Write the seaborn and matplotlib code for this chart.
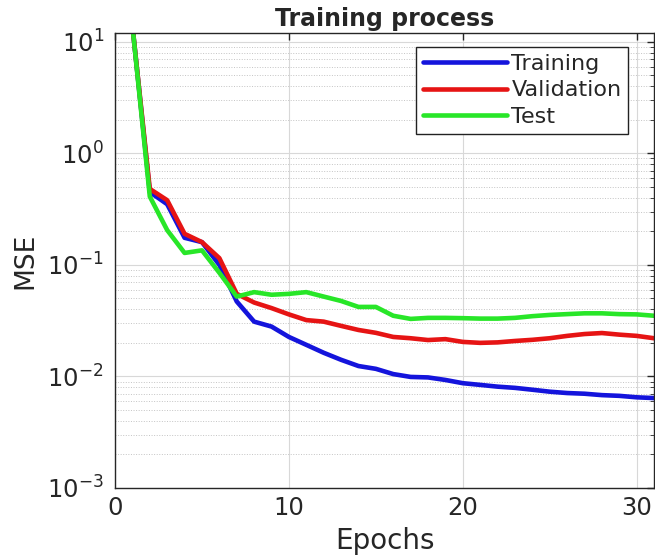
import numpy as np
import pandas as pd
import matplotlib
matplotlib.use('Agg')
import matplotlib.pyplot as plt
import matplotlib.ticker as mticker
import seaborn as sns

epochs = list(range(1, 32))
training = [14, 0.45, 0.35, 0.175, 0.16, 0.10, 0.047, 0.031, 0.028, 0.0226, 0.0192, 0.0163,
            0.0141, 0.0124, 0.0117, 0.0105, 0.0099, 0.0098, 0.0093, 0.0087, 0.0084, 0.0081,
            0.0079, 0.0076, 0.0073, 0.0071, 0.0070, 0.0068, 0.0067, 0.0065, 0.0064]
validation = [14, 0.48, 0.38, 0.19, 0.16, 0.115, 0.055, 0.046, 0.041, 0.036, 0.032, 0.031,
              0.0284, 0.0261, 0.0246, 0.0226, 0.022, 0.0212, 0.0216, 0.0204, 0.0200, 0.0202,
              0.0208, 0.0213, 0.022, 0.0231, 0.0240, 0.0245, 0.0237, 0.0231, 0.022]
test = [14, 0.41, 0.205, 0.128, 0.135, 0.085, 0.052, 0.057, 0.054, 0.055, 0.057, 0.052,
        0.0475, 0.042, 0.042, 0.035, 0.0328, 0.0335, 0.0335, 0.0333, 0.033, 0.033,
        0.0335, 0.0347, 0.0356, 0.0362, 0.0368, 0.0368, 0.0362, 0.036, 0.035]
series_names = ['Training', 'Validation', 'Test']
colors = ['#1414dc', '#e61414', '#28e628']

df = pd.DataFrame({
    'Epochs': epochs * 3,
    'MSE': training + validation + test,
    'set': np.repeat(series_names, len(epochs)),
})

sns.set_style('white')
plt.rcParams['font.family'] = ['DejaVu Sans']
plt.rcParams['mathtext.fontset'] = 'dejavusans'

fig = plt.figure(figsize=(6.55, 5.6), dpi=100)
ax = fig.add_axes([0.1756, 0.1286, 0.823, 0.8125])

sns.lineplot(data=df, x='Epochs', y='MSE', hue='set', hue_order=series_names,
             palette=colors, linewidth=3.3, ax=ax, legend=True)

ax.set_yscale('log')
ax.set_xlim(0, 31)
ax.set_ylim(1e-3, 12)
ax.set_xticks([0, 10, 20, 30])
ax.set_yticks([1e-3, 1e-2, 1e-1, 1e0, 1e1])
ax.yaxis.set_major_formatter(mticker.FuncFormatter(lambda v, p: r'$\mathregular{10^{%d}}$' % round(np.log10(v))))

# matlab style grid
ax.grid(True, which='major', color='#d8d8d8', linewidth=0.8, linestyle='-')
ax.grid(True, which='minor', axis='y', color='#c4c4c4', linewidth=0.7, linestyle=':')
ax.set_axisbelow(True)

ax.tick_params(which='both', direction='in', top=True, right=True, colors='#262626')
ax.tick_params(axis='y', labelsize=17.5, pad=8)
ax.tick_params(axis='x', labelsize=17.5, pad=6)
ax.tick_params(which='major', length=5, width=1)
ax.tick_params(which='minor', length=3, width=0.6)
for sp in ax.spines.values():
    sp.set_color('#262626')
    sp.set_linewidth(1)

ax.set_xlabel('Epochs', fontsize=20, color='#262626', labelpad=5)
ax.set_ylabel('MSE', fontsize=19, color='#262626', labelpad=6)
ax.set_title('Training process', fontsize=17, fontweight='bold', pad=5)

leg = ax.legend(loc='upper right', bbox_to_anchor=(0.952, 0.969), fontsize=16,
                frameon=True, fancybox=False, edgecolor='#222222', framealpha=1,
                handlelength=3.8, borderpad=0.3, labelspacing=0.3, handletextpad=0.2,
                borderaxespad=0)
leg.get_frame().set_linewidth(1)

fig.savefig('out.png', dpi=100)
